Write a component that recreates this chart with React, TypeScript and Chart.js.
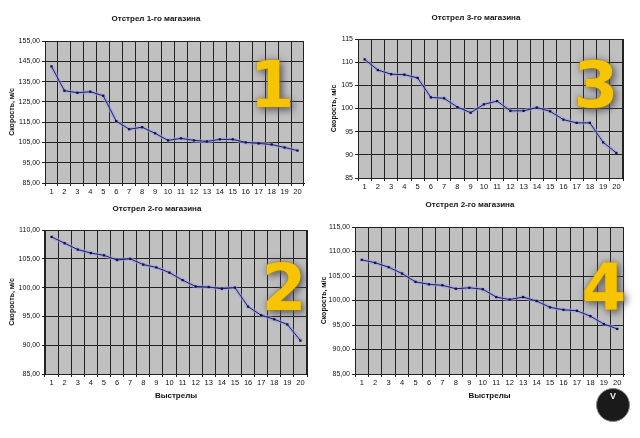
import React, { useEffect, useRef } from "react";
import { Chart, registerables } from "chart.js";
Chart.register(...registerables);

const shots = ["1","2","3","4","5","6","7","8","9","10","11","12","13","14","15","16","17","18","19","20"];
const mag1 = [142.5,130.5,129.5,130,128,115.5,111.5,112.5,109.5,106,107,106,105.5,106.5,106.5,105,104.5,104,102.5,101];
const mag3 = [110.6,108.3,107.4,107.3,106.6,102.4,102.2,100.3,99.1,100.9,101.6,99.5,99.5,100.2,99.4,97.6,96.9,96.9,92.7,90.4];
const mag2 = [108.8,107.7,106.6,106.0,105.6,104.8,105.0,104.0,103.5,102.6,101.3,100.2,100.1,99.8,100.0,96.7,95.2,94.5,93.6,90.8];
const mag4 = [108.3,107.7,106.8,105.5,103.8,103.3,103.1,102.4,102.6,102.3,100.7,100.2,100.7,99.9,98.6,98.1,97.9,96.8,95.2,94.2];

const range1 = [85, 155, 10];
const range3 = [85, 115, 5];
const range2 = [85, 110, 5];
const range4 = [85, 115, 5];

const FONT = "'Liberation Sans', Arial, sans-serif";

const plotBg = {
  id: "plotBg",
  beforeDraw(chart: any) {
    const { ctx, chartArea } = chart;
    ctx.save();
    ctx.fillStyle = "#c0c0c0";
    ctx.fillRect(chartArea.left, chartArea.top, chartArea.right - chartArea.left, chartArea.bottom - chartArea.top);
    ctx.restore();
  },
  beforeDatasetsDraw(chart: any) {
    const { ctx, chartArea } = chart;
    ctx.save();
    ctx.strokeStyle = "#222";
    ctx.lineWidth = 1;
    ctx.strokeRect(Math.round(chartArea.left) + 0.5, Math.round(chartArea.top) + 0.5,
      Math.round(chartArea.right - chartArea.left) - 1, Math.round(chartArea.bottom - chartArea.top));
    ctx.restore();
  },
};

type P = {
  values: number[]; range: number[]; decimals: boolean;
  w: number; h: number; plotLeft: number; plotTop: number; plotRight: number; plotBottom: number;
  xHeight: number; yTitlePad: number; xTitle: boolean;
  left: number; top: number;
};

function MiniChart(p: P) {
  const ref = useRef<HTMLCanvasElement>(null);
  useEffect(() => {
    const chart = new Chart(ref.current!, {
      type: "line",
      data: {
        labels: shots,
        datasets: [
          {
            data: p.values, borderColor: "#1c1c6e", borderWidth: 1, pointStyle: "rect",
            pointRadius: 1.6, pointBackgroundColor: "#10103c", pointBorderColor: "#10103c",
            pointBorderWidth: 0, tension: 0, order: 0,
          },
          {
            data: p.values, borderColor: "rgba(160,160,225,0.55)", borderWidth: 4, pointRadius: 0,
            tension: 0, order: 1,
          },
        ],
      },
      options: {
        responsive: false, animation: false, devicePixelRatio: 1,
        layout: { padding: { left: 0, top: p.plotTop, right: p.w - p.plotRight, bottom: p.h - p.plotBottom - p.xHeight } },
        plugins: { legend: { display: false }, tooltip: { enabled: false } },
        scales: {
          x: {
            type: "category", offset: true,
            grid: { offset: true, color: "#222", tickLength: 3, lineWidth: 1 },
            border: { color: "#000" },
            ticks: { font: { family: FONT, size: 7.5 }, color: "#111", padding: 1, maxRotation: 0, autoSkip: false },
            title: { display: p.xTitle, text: "Выстрелы", font: { family: FONT, size: 8, weight: "bold" }, color: "#111", padding: { top: 0, bottom: 3 } },
            afterFit: (s: any) => { s.height = p.xHeight; },
          },
          y: {
            min: p.range[0], max: p.range[1],
            grid: { color: "#222", tickLength: 3, lineWidth: 1 },
            border: { color: "#000" },
            ticks: {
              stepSize: p.range[2], font: { family: FONT, size: 7 }, color: "#111", padding: 2,
              callback: (v: any) => p.decimals ? Number(v).toFixed(2).replace(".", ",") : String(v),
            },
            title: { display: true, text: "Скорость, м/с", font: { family: FONT, size: 7, weight: "bold" }, color: "#111", padding: { top: p.yTitlePad, bottom: 0 } },
            afterFit: (s: any) => { s.width = p.plotLeft; },
          },
        },
      },
      plugins: [plotBg],
    } as any);
    return () => chart.destroy();
  }, []);
  return (
    <canvas ref={ref} width={p.w} height={p.h}
      style={{ position: "absolute", left: p.left, top: p.top, width: p.w, height: p.h }} />
  );
}

const titleStyle = (cx: number, cy: number): React.CSSProperties => ({
  position: "absolute", left: cx, top: cy, transform: "translate(-50%, -50%)",
  font: `bold 8px ${FONT}`, color: "#111", whiteSpace: "nowrap",
});

const numStyle = (cx: number, baseline: number): React.CSSProperties => ({
  position: "absolute", left: cx, top: baseline - 54, transform: "translateX(-50%)",
  font: "bold 64px 'DejaVu Sans', sans-serif", lineHeight: "64px", color: "#f6c400",
  textShadow: "0 0 3px #b08a00, 3px 3px 7px rgba(70,70,90,0.75), 0 0 10px rgba(90,90,120,0.5)",
});

export default function App() {
  return (
    <div style={{ position: "absolute", left: 0, top: 0, width: 640, height: 438, background: "#fff", overflow: "hidden" }}>
      <MiniChart values={mag1} range={range1} decimals={true} w={320} h={200} left={0} top={0}
        plotLeft={45} plotTop={41} plotRight={304} plotBottom={183} xHeight={17} yTitlePad={8} xTitle={false} />
      <MiniChart values={mag3} range={range3} decimals={false} w={320} h={200} left={320} top={0}
        plotLeft={38} plotTop={39} plotRight={303} plotBottom={178} xHeight={18} yTitlePad={10} xTitle={false} />
      <MiniChart values={mag2} range={range2} decimals={true} w={320} h={238} left={0} top={200}
        plotLeft={45} plotTop={30} plotRight={307} plotBottom={174} xHeight={30} yTitlePad={8} xTitle={true} />
      <MiniChart values={mag4} range={range4} decimals={true} w={320} h={238} left={320} top={200}
        plotLeft={35} plotTop={27} plotRight={304} plotBottom={174} xHeight={30} yTitlePad={0} xTitle={true} />

      <div style={titleStyle(156, 18)}>Отстрел 1-го магазина</div>
      <div style={titleStyle(476, 17)}>Отстрел 3-го магазина</div>
      <div style={titleStyle(157, 208)}>Отстрел 2-го магазина</div>
      <div style={titleStyle(470, 204)}>Отстрел 2-го магазина</div>

      <div style={numStyle(272, 107)}>1</div>
      <div style={numStyle(596, 107)}>3</div>
      <div style={numStyle(284, 310)}>2</div>
      <div style={numStyle(604, 310)}>4</div>

      <div style={{
        position: "absolute", left: 596, top: 388, width: 34, height: 34, borderRadius: "50%",
        background: "#1a1a1a", border: "1px solid #888", boxSizing: "border-box",
        color: "#eee", font: `bold 9px ${FONT}`, textAlign: "center", lineHeight: "14px",
      }}>V</div>
    </div>
  );
}
